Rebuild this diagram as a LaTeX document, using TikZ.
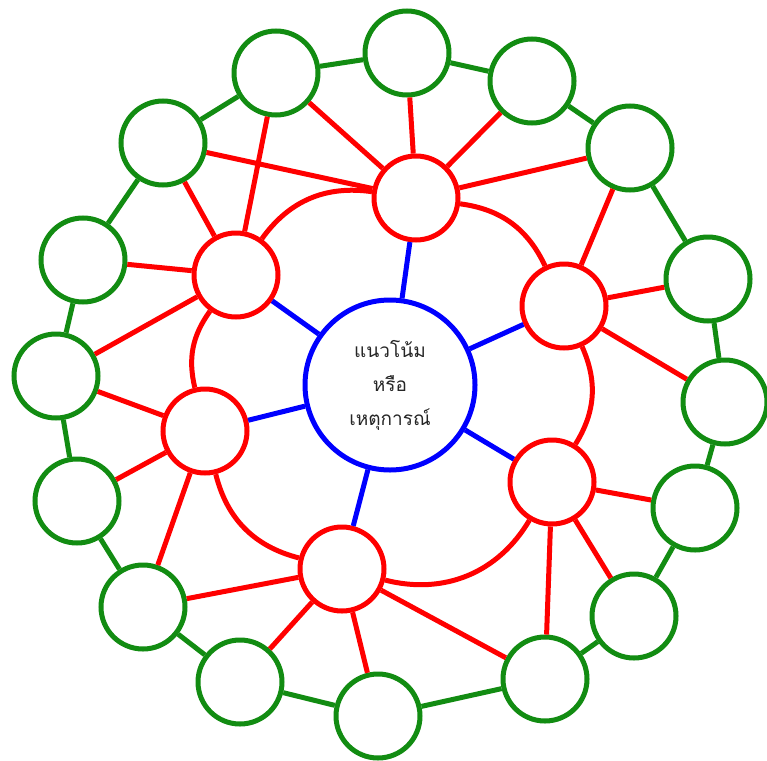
\documentclass[tikz,border=0pt]{standalone}
\usepackage{fontspec}
\newfontfamily\thaifont[Script=Thai]{Loma}
\definecolor{ggreen}{RGB}{18,140,18}
\definecolor{rred}{RGB}{255,0,0}
\definecolor{bblue}{RGB}{0,0,255}
\begin{document}
\begin{tikzpicture}[x=1pt,y=1pt,
  gnode/.style={circle,draw=ggreen,line width=5pt,fill=white,minimum size=84pt,inner sep=0pt},
  rnode/.style={circle,draw=rred,line width=5pt,fill=white,minimum size=84pt,inner sep=0pt},
  bnode/.style={circle,draw=bblue,line width=5pt,fill=white,minimum size=170pt,inner sep=0pt},
  gedge/.style={draw=ggreen,line width=5pt},
  redge/.style={draw=rred,line width=5pt},
  bedge/.style={draw=bblue,line width=5pt}]
\useasboundingbox (0,0) rectangle (767,-760);
% centre
\node[bnode,align=center,text=black!85,font=\thaifont\fontsize{19}{34}\selectfont] (C) at (390,-385) {แนวโน้ม\\หรือ\\เหตุการณ์};
% red ring
\node[rnode] (R1) at (416,-198) {};
\node[rnode] (R2) at (236,-275) {};
\node[rnode] (R3) at (564,-306) {};
\node[rnode] (R4) at (205,-431) {};
\node[rnode] (R5) at (552,-482) {};
\node[rnode] (R6) at (342,-569) {};
% green ring
\node[gnode] (G1) at (276,-73) {};
\node[gnode] (G2) at (407,-53) {};
\node[gnode] (G3) at (532,-81) {};
\node[gnode] (G4) at (630,-148) {};
\node[gnode] (G5) at (708,-279) {};
\node[gnode] (G6) at (725,-402) {};
\node[gnode] (G7) at (695,-508) {};
\node[gnode] (G8) at (634,-616) {};
\node[gnode] (G9) at (545,-679) {};
\node[gnode] (G10) at (378,-716) {};
\node[gnode] (G11) at (240,-682) {};
\node[gnode] (G12) at (143,-607) {};
\node[gnode] (G13) at (77,-501) {};
\node[gnode] (G14) at (56,-376) {};
\node[gnode] (G15) at (83,-260) {};
\node[gnode] (G16) at (163,-143) {};
% green ring edges
\path[gedge] (G1) -- (G2) (G2) -- (G3) (G3) -- (G4) (G4) -- (G5) (G5) -- (G6)
  (G6) -- (G7) (G7) -- (G8) (G8) -- (G9) (G9) -- (G10) (G10) -- (G11)
  (G11) -- (G12) (G12) -- (G13) (G13) -- (G14) (G14) -- (G15) (G15) -- (G16) (G16) -- (G1);
% blue edges
\path[bedge] (C) -- (R1) (C) -- (R2) (C) -- (R3) (C) -- (R4) (C) -- (R5) (C) -- (R6);
% red arcs
\path[redge] (R3) to[bend right=28.6] (R1);
\path[redge] (R1) to[bend right=31.3] (R2);
\path[redge] (R2) to[bend right=24.5] (R4);
\path[redge] (R4) to[bend right=30.8] (R6);
\path[redge] (R6) to[bend right=36.9] (R5);
\path[redge] (R5) to[bend right=27.9] (R3);
% red spokes
\path[redge] (G1) -- (R2) (G1) -- (R1) (G16) -- (R1) (G16) -- (R2) (G15) -- (R2) (G14) -- (R2)
  (G2) -- (R1) (G3) -- (R1) (G4) -- (R1) (G4) -- (R3) (G5) -- (R3) (G6) -- (R3)
  (G14) -- (R4) (G13) -- (R4) (G12) -- (R4)
  (G12) -- (R6) (G11) -- (R6) (G10) -- (R6) (G9) -- (R6)
  (G9) -- (R5) (G8) -- (R5) (G7) -- (R5);
\end{tikzpicture}
\end{document}
